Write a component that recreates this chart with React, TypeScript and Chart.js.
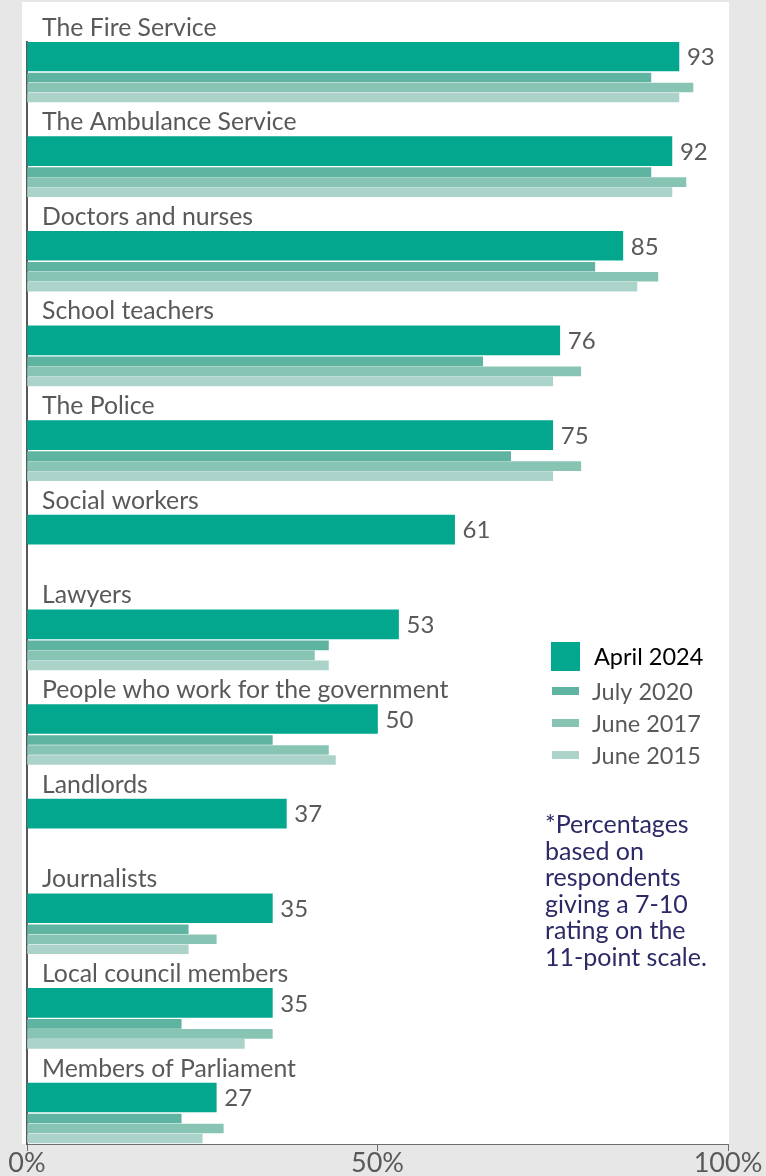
import React, { useEffect, useRef } from "react";
import { Chart, registerables } from "chart.js";

Chart.register(...registerables);

// ---------- data ----------
const categories = [
  "The Fire Service",
  "The Ambulance Service",
  "Doctors and nurses",
  "School teachers",
  "The Police",
  "Social workers",
  "Lawyers",
  "People who work for the government",
  "Landlords",
  "Journalists",
  "Local council members",
  "Members of Parliament",
];
const april2024 = [93, 92, 85, 76, 75, 61, 53, 50, 37, 35, 35, 27];
const july2020 = [89, 89, 81, 65, 69, null, 43, 35, null, 23, 22, 22];
const june2017 = [95, 94, 90, 79, 79, null, 41, 43, null, 27, 35, 28];
const june2015 = [93, 92, 87, 75, 75, null, 43, 44, null, 23, 31, 25];
const seriesLabels = ["April 2024", "July 2020", "June 2017", "June 2015"];
const xTickValues = [0, 50, 100];
const footnoteLines = [
  "*Percentages",
  "based on",
  "respondents",
  "giving a 7-10",
  "rating on the",
  "11-point scale.",
];

// ---------- styles / layout ----------
const W = 766;
const H = 1176;
const PLOT_LEFT = 27;
const PLOT_RIGHT = 728;
const PLOT_TOP = 42;
const PLOT_BOTTOM = 1144;
const PITCH = 94.64; // px per category
const FIRST_CENTER = 14.5; // px from plot top to first main bar centre
const BAR_OFFSETS = [0, 21, 31, 41]; // px from main bar centre
const BAR_THICK = [29, 9, 9, 9];
const COLORS = ["#02a78e", "#5eb4a0", "#88c4b4", "#acd3c9"];
const BG_GRAY = "#e7e7e7";
const TEXT_GRAY = "#595959";
const NOTE_COLOR = "#2b2a66";
const FONT = "Lato, 'Open Sans', sans-serif";

const allSeries = [april2024, july2020, june2017, june2015];

function buildDatasets() {
  return allSeries.map((vals, k) => ({
    label: seriesLabels[k],
    data: vals
      .map((v, i) => (v == null ? null : { x: v, y: i + BAR_OFFSETS[k] / PITCH }))
      .filter((p) => p !== null),
    backgroundColor: COLORS[k],
    borderWidth: 0,
    barThickness: BAR_THICK[k],
    grouped: false,
  }));
}

const backgroundPlugin = {
  id: "panelBg",
  beforeDraw(chart: any) {
    const ctx = chart.ctx;
    ctx.save();
    ctx.fillStyle = BG_GRAY;
    ctx.fillRect(0, 0, chart.width, chart.height);
    ctx.fillStyle = "#ffffff";
    ctx.fillRect(22, 2, 729 - 22, PLOT_BOTTOM - 2);
    ctx.restore();
  },
};

const annotatePlugin = {
  id: "annotate",
  afterDatasetsDraw(chart: any) {
    const ctx = chart.ctx;
    const meta = chart.getDatasetMeta(0);
    ctx.save();
    // category labels + value labels
    meta.data.forEach((el: any, i: number) => {
      const top = el.y - BAR_THICK[0] / 2;
      ctx.fillStyle = TEXT_GRAY;
      ctx.font = `24.8px ${FONT}`;
      ctx.textAlign = "left";
      ctx.textBaseline = "alphabetic";
      ctx.fillText(categories[i], 42, top - 6.5);
      ctx.font = `24px ${FONT}`;
      ctx.textBaseline = "middle";
      ctx.fillText(String(april2024[i]), el.x + 8, el.y + 1);
    });

    // legend
    const lx = 551;
    const ly = [656.5, 691, 723, 755];
    seriesLabels.forEach((lab, k) => {
      ctx.fillStyle = COLORS[k];
      if (k === 0) ctx.fillRect(lx, ly[k] - 14.5, 29, 29);
      else ctx.fillRect(lx + 1, ly[k] - 4, 27, 8);
      ctx.fillStyle = k === 0 ? "#000000" : TEXT_GRAY;
      ctx.font = `23.5px ${FONT}`;
      ctx.textAlign = "left";
      ctx.textBaseline = "middle";
      ctx.fillText(lab, k === 0 ? 594 : 592, ly[k] + 1);
    });

    // footnote
    ctx.fillStyle = NOTE_COLOR;
    ctx.font = `25px ${FONT}`;
    ctx.textBaseline = "alphabetic";
    footnoteLines.forEach((line, j) => {
      ctx.fillText(line, 545, 833 + j * 26.5);
    });
    ctx.restore();
  },
};

export default function App() {
  const ref = useRef<HTMLCanvasElement | null>(null);

  useEffect(() => {
    if (!ref.current) return;
    const chart = new Chart(ref.current, {
      type: "bar",
      data: { datasets: buildDatasets() as any },
      options: {
        indexAxis: "y",
        animation: false,
        responsive: false,
        maintainAspectRatio: false,
        devicePixelRatio: 1,
        layout: {
          padding: { left: PLOT_LEFT, right: W - PLOT_RIGHT, top: PLOT_TOP, bottom: 0 },
        },
        plugins: {
          legend: { display: false },
          tooltip: { enabled: false },
          title: { display: false },
        },
        scales: {
          x: {
            type: "linear",
            position: "bottom",
            min: 0,
            max: 100,
            offset: false,
            afterBuildTicks: (axis: any) => {
              axis.ticks = xTickValues.map((v) => ({ value: v }));
            },
            afterFit: (axis: any) => {
              axis.height = H - PLOT_BOTTOM;
            },
            ticks: {
              color: TEXT_GRAY,
              font: { family: FONT, size: 27 },
              padding: -4,
              maxRotation: 0,
              callback: (v: any) => `${v}%`,
            },
            grid: {
              display: true,
              drawOnChartArea: false,
              drawTicks: true,
              tickLength: 7,
              color: "#6d6d6d",
              lineWidth: 1,
            },
            border: { display: true, color: "#6d6d6d", width: 1 },
          },
          y: {
            type: "linear",
            position: "left",
            reverse: true,
            offset: false,
            bounds: "data",
            grace: 0,
            min: -FIRST_CENTER / PITCH,
            max: (PLOT_BOTTOM - PLOT_TOP - FIRST_CENTER) / PITCH,
            afterFit: (axis: any) => {
              axis.width = 0;
            },
            ticks: { display: false },
            grid: { display: false, offset: false },
            border: { display: true, color: TEXT_GRAY, width: 2 },
            z: 1,
          } as any,
        },
      },
      plugins: [backgroundPlugin, annotatePlugin],
    });
    return () => chart.destroy();
  }, []);

  return (
    <div
      style={{
        position: "absolute",
        left: 0,
        top: 0,
        width: W,
        height: H,
        background: BG_GRAY,
      }}
    >
      <canvas ref={ref} width={W} height={H} style={{ width: W, height: H, display: "block" }} />
    </div>
  );
}
